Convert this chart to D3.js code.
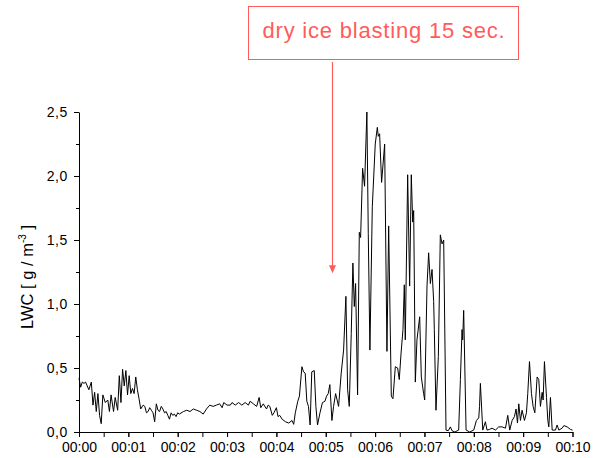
<!DOCTYPE html>
<html>
  <head>
    <script src="https://d3js.org/d3.v7.min.js"></script>
    <style>
      body { margin: 0; background: #fff; }
      text { font-family: "Liberation Sans", Arial, sans-serif; }
    </style>
  </head>
  <body>
    <svg id="chart" width="593" height="458"></svg>
    <script>
      // [seconds, LWC g/m3]
      var calmSeg = [
        [0, 0.42], [2, 0.35], [4, 0.39], [6, 0.38], [8, 0.39], [10, 0.36], [12, 0.33], [15, 0.39],
        [17, 0.21], [19, 0.31], [21, 0.16], [23, 0.30], [25, 0.13], [27, 0.065], [29, 0.29],
        [32, 0.23], [35, 0.25], [37, 0.16], [39, 0.29], [42, 0.16], [44, 0.27], [47, 0.17],
        [49, 0.44], [51, 0.23], [53, 0.49], [55, 0.36], [57, 0.48], [59, 0.29], [61, 0.44],
        [63, 0.30], [65, 0.34], [67, 0.30], [69, 0.43], [71, 0.33], [73, 0.26], [75, 0.18],
        [78, 0.21], [80, 0.20], [82, 0.15], [84, 0.16], [86, 0.19], [88, 0.17], [90, 0.15],
        [92, 0.08], [94, 0.22], [96, 0.17], [98, 0.16], [100, 0.20], [102, 0.18], [104, 0.15],
        [106, 0.16], [108, 0.13], [110, 0.10], [112, 0.15], [114, 0.13], [116, 0.14], [118, 0.12],
        [120, 0.15], [122, 0.14], [127, 0.16], [131, 0.17], [135, 0.16], [139, 0.18], [143, 0.17],
        [147, 0.16], [151, 0.14], [155, 0.18], [159, 0.21], [163, 0.20], [167, 0.21], [171, 0.22],
        [174, 0.19], [176, 0.23], [180, 0.21], [184, 0.21], [186, 0.23], [190, 0.21], [194, 0.23],
        [198, 0.21], [202, 0.23], [206, 0.21], [208, 0.24], [212, 0.22], [216, 0.20], [219, 0.27],
        [221, 0.19], [224, 0.22], [228, 0.18], [230, 0.21], [232, 0.20], [235, 0.13], [237, 0.15],
        [240, 0.19], [242, 0.12], [244, 0.13], [247, 0.10], [251, 0.08], [255, 0.07], [259, 0.09],
        [261, 0.06]
      ];
      var blastSeg = [
        [263, 0.15], [266, 0.24], [268, 0.28], [271, 0.51], [273, 0.47], [275, 0.46], [277, 0.24],
        [279, 0.20], [281, 0.055], [283, 0.47], [286, 0.48], [288, 0.20], [290, 0.055], [293, 0.15],
        [296, 0.23], [299, 0.24], [301, 0.28], [303, 0.30], [305, 0.37], [307.5, 0.09], [309.5, 0.20],
        [312, 0.30], [315.6, 0.20], [318.8, 0.46], [321.7, 0.64], [324.5, 1.06], [326.6, 0.33],
        [328.6, 0.20], [331, 0.77], [333, 1.32], [334.7, 0.98], [336.3, 1.16], [338.7, 0.29],
        [340.8, 1.56], [342.4, 1.52], [344.8, 2.06], [347.2, 1.92], [350, 2.50], [351.7, 1.55],
        [353.7, 0.64], [356.6, 1.76], [360.2, 2.25], [362.7, 2.38], [363.9, 2.31], [365.5, 2.33],
        [367.9, 1.95], [371.6, 2.25], [374.4, 0.63], [376.5, 1.61], [379.7, 0.28], [381.7, 0.26],
        [384.6, 0.51], [387.4, 0.50], [389.4, 0.41], [391.5, 0.61], [393.9, 0.80], [395.5, 1.15],
        [396.7, 0.72], [399.6, 2.01], [402, 1.14], [404, 2.01], [405.7, 1.64], [406.9, 1.73],
        [408.9, 0.39], [410.9, 0.72], [414.2, 0.90], [416.2, 0.43], [419, 0.30], [420.3, 0.25],
        [423.1, 1.14], [425.1, 1.40], [427.2, 1.16], [429.2, 1.27], [431.2, 1.02], [432, 0.80],
        [434, 0.17], [436.9, 0.59], [439.3, 1.54], [441.4, 1.47], [443.4, 1.50], [446.2, 0.015]
      ];
      var tailSeg = [
        [449, 0.01], [451.5, 0.04], [453.5, 0.01], [457, 0.0], [461.6, 0.015], [463.7, 0.41],
        [465.7, 0.80], [466.5, 0.72], [467.7, 0.95], [470.6, 0.015], [475, 0.0], [479.9, 0.015],
        [483.2, 0.09], [486, 0.11], [487, 0.20], [488, 0.38], [490.9, 0.015], [494.1, 0.08],
        [496.1, 0.015], [499, 0.02], [502.2, 0.03], [506.3, 0.015], [510.3, 0.04], [514.4, 0.04],
        [518.5, 0.03], [521.3, 0.13], [523.7, 0.015], [526.6, 0.09], [529.4, 0.12], [531.4, 0.18],
        [533.1, 0.07], [534.7, 0.22], [536.7, 0.09], [538.7, 0.17], [541.6, 0.09], [544, 0.15],
        [545.6, 0.30], [547.7, 0.55], [550.1, 0.30], [552.1, 0.20], [554.2, 0.15], [557, 0.43],
        [559, 0.41], [561, 0.20], [563.1, 0.31], [564.3, 0.25], [565.9, 0.55], [568.4, 0.27],
        [570, 0.09], [571.2, 0.04], [573.2, 0.27], [575.3, 0.015], [579.3, 0.015], [581.3, 0.055],
        [583.4, 0.015], [587.4, 0.03], [589.5, 0.05], [593.5, 0.04], [597.6, 0.02], [600, 0.015]
      ];

      var xTicks = [0, 60, 120, 180, 240, 300, 360, 420, 480, 540, 600];
      var xTickLabels = ["00:00", "00:01", "00:02", "00:03", "00:04", "00:05", "00:06", "00:07", "00:08", "00:09", "00:10"];
      var yTicks = [0, 0.5, 1.0, 1.5, 2.0, 2.5];
      var yTickLabels = ["0,0", "0,5", "1,0", "1,5", "2,0", "2,5"];
      var noteText = "dry ice blasting 15 sec.";
      var noteSec = 308;     // where the arrow points on the time axis
      var noteTipLwc = 1.24; // arrow tip height

      var red = "#ff5b5b";
      var data = calmSeg.concat(blastSeg, tailSeg);

      var svg = d3.select("#chart");
      var x = d3.scaleLinear().domain([0, 600]).range([79, 572.5]);
      var y = d3.scaleLinear().domain([0, 2.5]).range([432, 112]);

      // x axis (minor ticks every 30 s)
      svg.append("g")
        .attr("transform", "translate(0,432)")
        .call(d3.axisBottom(x).tickValues(d3.range(0, 601, 30)).tickSize(5).tickFormat(""))
        .call(g => g.select(".domain").remove());
      svg.append("g")
        .attr("transform", "translate(0,432)")
        .call(d3.axisBottom(x).tickValues(xTicks).tickSize(5).tickSizeOuter(0).tickPadding(5)
          .tickFormat((d, i) => xTickLabels[i]))
        .call(g => g.selectAll("text").attr("font-size", 14).attr("fill", "#000"));

      // y axis (minor ticks every 0.25)
      svg.append("g")
        .attr("transform", "translate(79,0)")
        .call(d3.axisLeft(y).tickValues(d3.range(0.25, 2.5, 0.5)).tickSize(3).tickFormat(""))
        .call(g => g.select(".domain").remove());
      svg.append("g")
        .attr("transform", "translate(79,0)")
        .call(d3.axisLeft(y).tickValues(yTicks).tickSize(5).tickSizeOuter(0).tickPadding(6)
          .tickFormat((d, i) => yTickLabels[i]))
        .call(g => g.selectAll("text").attr("font-size", 14).attr("letter-spacing", 0.6).attr("fill", "#000"));

      svg.selectAll(".tick line, .domain").attr("stroke", "#000");

      var ylab = svg.append("text")
        .attr("transform", "translate(33,277) rotate(-90)")
        .attr("text-anchor", "middle")
        .attr("font-size", 16.5);
      ylab.append("tspan").text("LWC [ g / m");
      ylab.append("tspan").attr("dy", -7).attr("font-size", 10).text("-3");
      ylab.append("tspan").attr("dy", 7).text(" ]");

      // the LWC trace
      var line = d3.line().x(d => x(d[0])).y(d => y(d[1]));
      svg.append("path")
        .datum(data)
        .attr("fill", "none")
        .attr("stroke", "#000")
        .attr("stroke-width", 1)
        .attr("stroke-linejoin", "round")
        .attr("d", line);

      // annotation box + arrow
      svg.append("rect")
        .attr("x", 248.5).attr("y", 6.5)
        .attr("width", 270).attr("height", 53)
        .attr("fill", "#fff")
        .attr("stroke", red);
      svg.append("text")
        .attr("x", 384).attr("y", 38)
        .attr("text-anchor", "middle")
        .attr("font-size", 22)
        .attr("letter-spacing", 0.8)
        .attr("fill", red)
        .text(noteText);

      var ax = Math.round(x(noteSec)) + 0.5;
      var tipY = y(noteTipLwc);
      svg.append("line")
        .attr("x1", ax).attr("x2", ax)
        .attr("y1", 62).attr("y2", tipY - 6)
        .attr("stroke", red).attr("stroke-width", 1.2);
      svg.append("path")
        .attr("d", `M${ax - 3.5},${tipY - 8} L${ax + 3.5},${tipY - 8} L${ax},${tipY} Z`)
        .attr("fill", red);
    </script>
  </body>
</html>
